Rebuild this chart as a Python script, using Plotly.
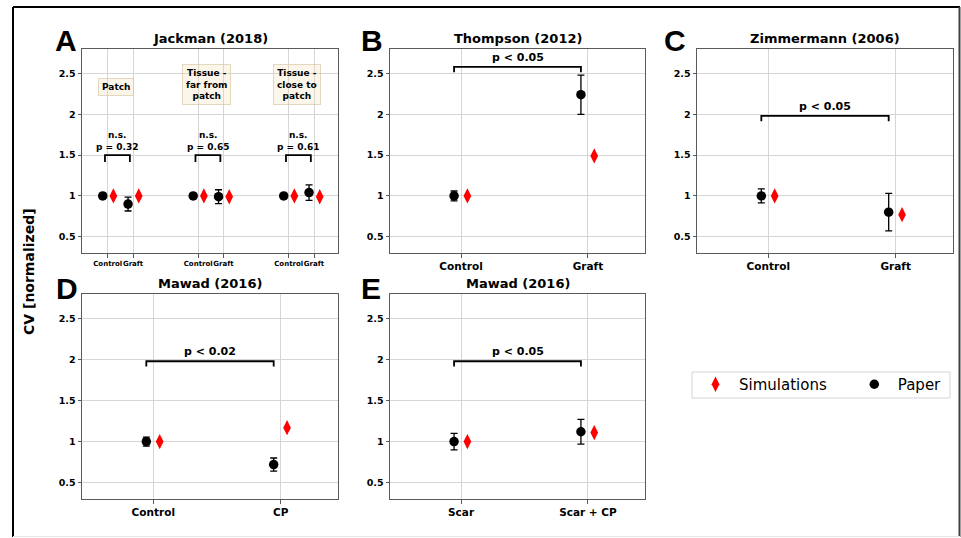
import plotly.graph_objects as go

W, H = 961, 538

# ---------------- data ----------------
# Panel A (Jackman 2018): three groups, Control / Graft in each
a_groups = ["Patch", "Tissue -<br>far from<br>patch", "Tissue -<br>close to<br>patch"]
a_ctrl_pos = [0, 1, 2]
a_graft_pos = [0.28, 1.28, 2.28]
a_ctrl_paper = [1.0, 1.0, 1.0]
a_ctrl_err = [0.03, 0.025, 0.025]
a_graft_paper = [0.90, 0.99, 1.04]
a_graft_err = [0.085, 0.085, 0.095]
a_ctrl_sim = [1.0, 1.0, 1.0]
a_graft_sim = [1.0, 0.99, 0.99]
a_pvals = ["n.s.<br>p = 0.32", "n.s.<br>p = 0.65", "n.s.<br>p = 0.61"]
a_bracket = [1.5, 1.5, 1.5]

# Panels B-E: two categories each
b_cats = ["Control", "Graft"]
b_paper = [1.0, 2.24]
b_err = [0.06, 0.24]
b_sim = [1.0, 1.49]

c_cats = ["Control", "Graft"]
c_paper = [1.0, 0.80]
c_err = [0.085, 0.23]
c_sim = [1.0, 0.77]

d_cats = ["Control", "CP"]
d_paper = [1.0, 0.72]
d_err = [0.055, 0.08]
d_sim = [1.0, 1.17]

e_cats = ["Scar", "Scar + CP"]
e_paper = [1.0, 1.12]
e_err = [0.10, 0.15]
e_sim = [1.0, 1.11]

titles = ["Jackman (2018)", "Thompson (2012)", "Zimmermann (2006)", "Mawad (2016)", "Mawad (2016)"]
letters = ["A", "B", "C", "D", "E"]
pvals = ["p < 0.05", "p < 0.05", "p < 0.02", "p < 0.05"]
bracket_tops = [2.58, 1.98, 1.98, 1.98]

y_ticks = [0.5, 1, 1.5, 2, 2.5]
y_ticktext = ["0.5", "1", "1.5", "2", "2.5"]

# ---------------- layout helpers ----------------
FONT = "DejaVu Sans"
panels_px = {  # x0, x1, y0(top), y1(bottom) in pixels
    1: (82, 338, 49, 253),
    2: (390, 645, 49, 253),
    3: (697, 953, 49, 253),
    4: (82, 338, 294, 499),
    5: (390, 645, 294, 499),
}


def px2x(p):
    return p / W


def px2y(p):
    return 1 - p / H


fig = go.Figure()
layout = dict(
    width=W, height=H, autosize=False,
    margin=dict(l=0, r=0, t=0, b=0),
    paper_bgcolor="white", plot_bgcolor="white",
    showlegend=True,
    font=dict(family=FONT, color="black"),
)

SPINE = "#5a5a5a"
GRID = "#d6d6d6"

for i, (x0, x1, y0, y1) in panels_px.items():
    sx = "" if i == 1 else str(i)
    layout["xaxis" + sx] = dict(
        domain=[px2x(x0), px2x(x1)], anchor="y" + sx,
        showline=True, mirror=True, linecolor=SPINE, linewidth=1,
        showgrid=True, gridcolor=GRID, gridwidth=1, zeroline=False,
        ticks="outside", ticklen=3.5, tickcolor=SPINE, automargin=False,
        tickfont=dict(family=FONT, size=10.5, weight="bold", color="black"),
    )
    layout["yaxis" + sx] = dict(
        domain=[px2y(y1), px2y(y0)], anchor="x" + sx,
        range=[0.3, 2.8],
        tickvals=y_ticks, ticktext=y_ticktext,
        showline=True, mirror=True, linecolor=SPINE, linewidth=1,
        showgrid=True, gridcolor=GRID, gridwidth=1, zeroline=False,
        ticks="outside", ticklen=3.5, tickcolor=SPINE, automargin=False,
        tickfont=dict(family=FONT, size=9.5, weight="bold", color="black"),
    )

# panel A axis
layout["xaxis"].update(
    range=[-0.284, 2.545],
    tickvals=a_ctrl_pos + a_graft_pos,
    ticktext=["Control"] * 3 + ["Graft"] * 3,
    tickfont=dict(family=FONT, size=7, weight="bold", color="black"),
)

OFF_P, OFF_S = 0.055, 0.05
err_style = dict(type="data", color="black", thickness=1.3, width=3.5, visible=True)
paper_marker = dict(symbol="circle", size=9.5, color="black")
sim_marker = dict(symbol="diamond-tall", size=11, color="red")

shown = {"sim": False, "paper": False}
SIM_NAME = "Simulations" + "&nbsp;" * 4


def add_pair(xref, yref, xs, paper, err, sim, off_p, off_s):
    fig.add_trace(go.Scatter(
        x=[v + off_s for v in xs], y=sim, mode="markers", marker=sim_marker,
        name=SIM_NAME, legendgroup="sim", legendrank=1,
        showlegend=not shown["sim"], xaxis=xref, yaxis=yref, hoverinfo="skip"))
    shown["sim"] = True
    fig.add_trace(go.Scatter(
        x=[v - off_p for v in xs], y=paper, mode="markers", marker=paper_marker,
        error_y=dict(array=err, **err_style),
        name="Paper", legendgroup="paper", legendrank=2,
        showlegend=not shown["paper"], xaxis=xref, yaxis=yref, hoverinfo="skip"))
    shown["paper"] = True


# Panel A
add_pair("x", "y", a_ctrl_pos + a_graft_pos,
         a_ctrl_paper + a_graft_paper, a_ctrl_err + a_graft_err,
         a_ctrl_sim + a_graft_sim, 0.055, 0.063)

shapes = []
annotations = []

for g in range(3):
    xl = a_ctrl_pos[g] - 0.03
    xr = a_graft_pos[g] - 0.035
    yt = a_bracket[g]
    shapes.append(dict(type="path", xref="x", yref="y",
                       path=f"M {xl},{yt - 0.085} L {xl},{yt} L {xr},{yt} L {xr},{yt - 0.085}",
                       line=dict(color="black", width=1.8)))
    annotations.append(dict(xref="x", yref="y", x=(xl + xr) / 2, y=yt, yanchor="bottom",
                            xanchor="center", yshift=1, text=a_pvals[g], showarrow=False,
                            font=dict(family=FONT, size=9, weight="bold")))
    annotations.append(dict(xref="x", yref="y", x=a_ctrl_pos[g] + 0.095,
                            y=2.34 if g == 0 else 2.37, xanchor="center", yanchor="middle",
                            text=a_groups[g], showarrow=False,
                            font=dict(family=FONT, size=9, weight="bold"),
                            bgcolor="rgba(245,222,179,0.28)",
                            bordercolor="rgba(215,200,170,0.7)", borderwidth=1, borderpad=3))

# Panels B-E
others = [(2, b_cats, b_paper, b_err, b_sim), (3, c_cats, c_paper, c_err, c_sim),
          (4, d_cats, d_paper, d_err, d_sim), (5, e_cats, e_paper, e_err, e_sim)]
for k, (i, cats, paper, err, sim) in enumerate(others):
    sx = str(i)
    pos = list(range(len(cats)))
    layout["xaxis" + sx].update(range=[-0.56, 1.45], tickvals=pos, ticktext=cats)
    add_pair("x" + sx, "y" + sx, pos, paper, err, sim, OFF_P, OFF_S)
    xl = pos[0] - OFF_P
    xr = pos[1] - OFF_P
    yt = bracket_tops[k]
    shapes.append(dict(type="path", xref="x" + sx, yref="y" + sx,
                       path=f"M {xl},{yt - 0.065} L {xl},{yt} L {xr},{yt} L {xr},{yt - 0.065}",
                       line=dict(color="black", width=1.8)))
    annotations.append(dict(xref="x" + sx, yref="y" + sx, x=(xl + xr) / 2, y=yt,
                            xanchor="center", yanchor="bottom", yshift=1, text=pvals[k],
                            showarrow=False, font=dict(family=FONT, size=11, weight="bold")))

# Titles and panel letters
letter_px = {1: (66, 40), 2: (372, 40), 3: (675, 40), 4: (67, 288), 5: (371, 288)}
for i, (x0, x1, y0, y1) in panels_px.items():
    annotations.append(dict(xref="paper", yref="paper", x=px2x((x0 + x1) / 2), y=px2y(y0 - 11),
                            text=titles[i - 1], showarrow=False, xanchor="center", yanchor="middle",
                            font=dict(family=FONT, size=13, weight="bold")))
    lx, ly = letter_px[i]
    annotations.append(dict(xref="paper", yref="paper", x=px2x(lx), y=px2y(ly),
                            text=letters[i - 1], showarrow=False, yanchor="middle",
                            xanchor="center",
                            font=dict(family="Liberation Sans", size=30, weight="bold")))

# shared y label
annotations.append(dict(xref="paper", yref="paper", x=px2x(29), y=px2y(272),
                        xanchor="center", yanchor="middle",
                        text="CV [normalized]", textangle=-90, showarrow=False,
                        font=dict(family=FONT, size=14, weight="bold")))

# outer frame + legend frame
shapes += [
    dict(type="line", xref="paper", yref="paper", x0=px2x(13), x1=px2x(13), y0=px2y(7), y1=px2y(537),
         line=dict(color="black", width=2)),
    dict(type="line", xref="paper", yref="paper", x0=px2x(13), x1=px2x(960), y0=px2y(7), y1=px2y(7),
         line=dict(color="black", width=2)),
    dict(type="line", xref="paper", yref="paper", x0=px2x(959.5), x1=px2x(959.5), y0=px2y(7), y1=px2y(537),
         line=dict(color="#404040", width=2)),
    dict(type="line", xref="paper", yref="paper", x0=px2x(13), x1=px2x(960), y0=px2y(536.5), y1=px2y(536.5),
         line=dict(color="#e6e6e6", width=1)),
    dict(type="rect", xref="paper", yref="paper", x0=px2x(692), x1=px2x(950), y0=px2y(372), y1=px2y(398),
         line=dict(color="#d4d4d4", width=1), fillcolor="white", layer="below"),
]

layout["legend"] = dict(
    orientation="h", x=px2x(692), xanchor="left", y=px2y(368), yanchor="top",
    bgcolor="rgba(0,0,0,0)", borderwidth=0,
    font=dict(family=FONT, size=15, color="black"),
    itemwidth=37, traceorder="normal",
)
layout["shapes"] = shapes
layout["annotations"] = annotations
fig.update_layout(**layout)

fig.write_html("out.html", config={"displayModeBar": False},
               post_script="document.body.style.margin='0';document.body.style.padding='0';")
